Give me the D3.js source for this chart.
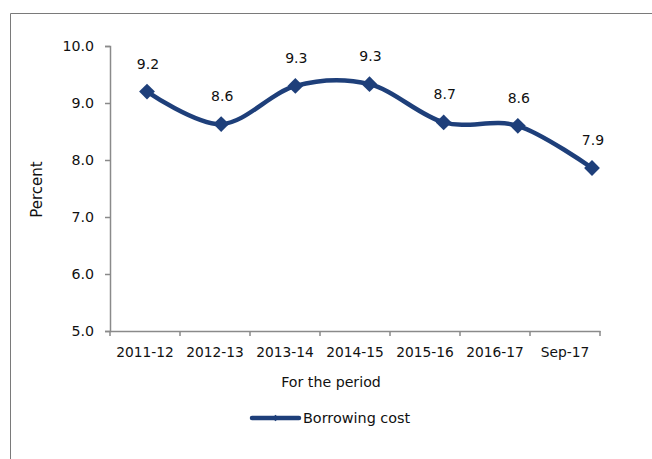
<!DOCTYPE html>
<html>
<head>
<meta charset="utf-8">
<script src="https://cdn.jsdelivr.net/npm/d3@7"></script>
<style>
  html, body { margin: 0; padding: 0; background: #fff; }
  svg { display: block; }
</style>
</head>
<body>
<svg id="chart" width="652" height="459"></svg>
<script>
// Borrowing cost by period
const categories = ["2011-12", "2012-13", "2013-14", "2014-15", "2015-16", "2016-17", "Sep-17"];
const values = [9.2, 8.63, 9.3, 9.33, 8.66, 8.6, 7.86];
const valueLabels = ["9.2", "8.6", "9.3", "9.3", "8.7", "8.6", "7.9"];
const yTicks = [5, 6, 7, 8, 9, 10];
const seriesName = "Borrowing cost";

const navy = "#1e3f7a";
const axisGrey = "#8a8a8a";
const font = "'DejaVu Sans', Verdana, sans-serif";

const svg = d3.select("#chart");

// outer frame
svg.append("path")
  .attr("d", "M10.5,459 L10.5,13.5 L652,13.5")
  .attr("fill", "none")
  .attr("stroke", "#7a7a7a")
  .attr("stroke-width", 1);

const plot = { left: 110, right: 600, top: 46, bottom: 331 };

const xBand = d3.scaleBand().domain(categories).range([plot.left, plot.right]).padding(0);
const xPoint = d3.scalePoint().domain(categories).range([147, 592]);
const y = d3.scaleLinear().domain([5, 10]).range([plot.bottom, plot.top]);

// y axis
const yAxis = svg.append("g")
  .attr("transform", `translate(${plot.left},0)`)
  .call(d3.axisLeft(y).tickValues(yTicks).tickFormat(d3.format(".1f")).tickSizeOuter(0).tickSize(5).tickPadding(11));
yAxis.select(".domain").attr("stroke", axisGrey).attr("stroke-width", 1.5);
yAxis.selectAll(".tick line").attr("stroke", axisGrey).attr("stroke-width", 1.5);
yAxis.selectAll(".tick text")
  .attr("font-family", font)
  .attr("font-size", 14.2)
  .attr("fill", "#111");

// x axis: labels centered in bands, ticks on band boundaries
const xAxis = svg.append("g")
  .attr("transform", `translate(0,${plot.bottom})`)
  .call(d3.axisBottom(xBand).tickSize(0).tickPadding(16));
xAxis.select(".domain").attr("stroke", axisGrey).attr("stroke-width", 1.5);
xAxis.selectAll(".tick text")
  .attr("font-family", font)
  .attr("font-size", 13.8)
  .attr("fill", "#111");
const boundaries = categories.map(c => xBand(c)).concat([xBand.range()[1]]);
xAxis.selectAll("line.boundary")
  .data(boundaries)
  .join("line")
  .attr("class", "boundary")
  .attr("x1", d => d).attr("x2", d => d)
  .attr("y1", 0).attr("y2", 5)
  .attr("stroke", axisGrey).attr("stroke-width", 1.5);

// axis titles
svg.append("text")
  .attr("transform", `translate(42,${(plot.top + plot.bottom) / 2 + 1}) rotate(-90)`)
  .attr("text-anchor", "middle")
  .attr("font-family", font)
  .attr("font-size", 15)
  .attr("fill", "#111")
  .text("Percent");

svg.append("text")
  .attr("x", 331)
  .attr("y", 386.5)
  .attr("text-anchor", "middle")
  .attr("font-family", font)
  .attr("font-size", 14.2)
  .attr("fill", "#111")
  .text("For the period");

// series line
const data = categories.map((c, i) => ({ c, v: values[i], label: valueLabels[i] }));
const line = d3.line()
  .x(d => xPoint(d.c))
  .y(d => y(d.v))
  .curve(d3.curveCardinal.tension(0));

svg.append("path")
  .datum(data)
  .attr("d", line)
  .attr("fill", "none")
  .attr("stroke", navy)
  .attr("stroke-width", 4.5)
  .attr("stroke-linejoin", "round")
  .attr("stroke-linecap", "round");

const diamond = d3.symbol().type(d3.symbolSquare).size(125);
svg.selectAll("path.marker")
  .data(data)
  .join("path")
  .attr("class", "marker")
  .attr("d", diamond)
  .attr("transform", d => `translate(${xPoint(d.c)},${y(d.v)}) rotate(45)`)
  .attr("fill", navy);

// data labels
svg.selectAll("text.value")
  .data(data)
  .join("text")
  .attr("class", "value")
  .attr("x", d => xPoint(d.c) + 1)
  .attr("y", d => y(d.v) - 23)
  .attr("text-anchor", "middle")
  .attr("font-family", font)
  .attr("font-size", 14)
  .attr("fill", "#111")
  .text(d => d.label);

// legend
const legend = svg.append("g").attr("transform", "translate(252,418)");
legend.append("line")
  .attr("x1", 0).attr("x2", 47)
  .attr("y1", 0).attr("y2", 0)
  .attr("stroke", navy).attr("stroke-width", 4.5)
  .attr("stroke-linecap", "round");
legend.append("path")
  .attr("d", d3.symbol().type(d3.symbolSquare).size(22))
  .attr("transform", "translate(23.5,0) rotate(45)")
  .attr("fill", navy);
legend.append("text")
  .attr("x", 51)
  .attr("y", 5)
  .attr("font-family", font)
  .attr("font-size", 14.4)
  .attr("fill", "#111")
  .text(seriesName);
</script>
</body>
</html>
